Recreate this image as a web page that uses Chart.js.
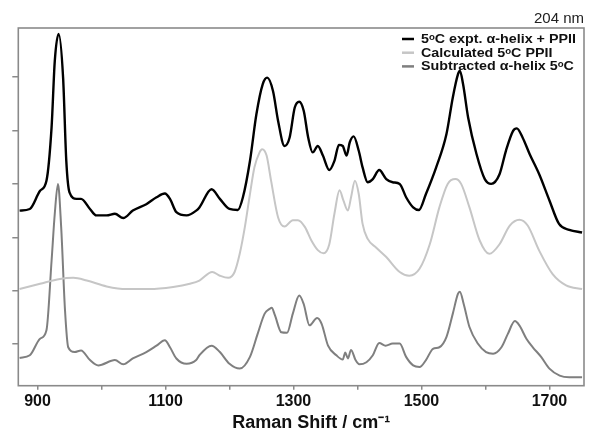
<!DOCTYPE html>
<html>
<head>
<meta charset="utf-8">
<script src="https://cdn.jsdelivr.net/npm/chart.js@4/dist/chart.umd.min.js"></script>
<style>
  html, body { margin: 0; padding: 0; background: #fff; }
  #wrap { width: 600px; height: 439px; position: relative; }
</style>
</head>
<body>
<div id="wrap"><canvas id="c"></canvas></div>
<script>
const seriesLabels = ['5\u1D52C expt. \u03B1-helix + PPII', 'Calculated 5\u1D52C PPII', 'Subtracted \u03B1-helix 5\u1D52C'];
const xTickLabels = [900, 1100, 1300, 1500, 1700];
const chartTitle = '204 nm';
const xAxisTitle = '    Raman Shift / cm\u207B\u00B9';

const expX = [872,888,904,914,922,927,933,940,945,950,961,968,982,992,1008,1021,1034,1049,1070,1086,1099,1107,1117,1133,1148,1153,1172,1185,1200,1213,1221,1232,1242,1252,1259,1268,1276,1286,1294,1302,1309,1316,1323,1330,1338,1346,1356,1364,1371,1377,1383,1388,1394,1402,1408,1416,1424,1434,1445,1455,1466,1476,1487,1496,1507,1523,1539,1549,1557,1560,1565,1573,1586,1599,1609,1622,1632,1643,1649,1658,1669,1684,1700,1715,1731,1751];
const expY = [2.50,2.53,2.87,3.06,4.06,5.30,5.81,4.99,3.43,2.84,2.72,2.72,2.53,2.41,2.41,2.44,2.36,2.50,2.62,2.75,2.82,2.72,2.47,2.41,2.50,2.56,2.90,2.72,2.53,2.51,2.75,3.43,4.30,4.87,4.99,4.74,4.18,3.71,3.87,4.43,4.54,4.37,3.87,3.59,3.71,3.53,3.26,3.43,3.73,3.71,3.53,3.78,3.89,3.62,3.31,3.03,3.09,3.26,3.09,3.03,3.00,2.75,2.56,2.51,2.81,3.31,3.93,4.62,5.05,5.12,4.87,4.24,3.56,3.09,3.00,3.18,3.62,3.99,4.04,3.87,3.56,3.18,2.69,2.25,2.14,2.09];

const calcX = [872,904,935,956,977,1008,1039,1075,1112,1138,1153,1173,1185,1198,1208,1216,1224,1232,1239,1247,1251,1258,1265,1276,1286,1299,1307,1318,1328,1338,1347,1356,1364,1372,1378,1385,1390,1396,1402,1408,1416,1429,1445,1466,1481,1497,1513,1528,1541,1553,1562,1575,1591,1606,1622,1638,1653,1666,1684,1705,1726,1751];
const calcY = [1.03,1.13,1.22,1.24,1.19,1.08,1.03,1.03,1.07,1.13,1.19,1.35,1.28,1.24,1.35,1.69,2.19,2.81,3.31,3.59,3.65,3.53,3.06,2.37,2.20,2.32,2.32,2.19,1.94,1.76,1.70,1.87,2.44,2.88,2.69,2.50,2.75,3.06,2.81,2.25,1.97,1.81,1.63,1.35,1.28,1.41,1.87,2.56,3.00,3.09,3.00,2.56,1.94,1.69,1.87,2.22,2.33,2.22,1.75,1.31,1.10,1.03];

const subX = [872,888,904,914,922,927,932,937,943,948,958,968,982,995,1021,1034,1049,1070,1086,1099,1107,1117,1133,1148,1153,1172,1185,1200,1216,1232,1244,1255,1263,1266,1271,1281,1290,1299,1309,1316,1325,1337,1344,1354,1367,1377,1381,1385,1390,1397,1403,1414,1424,1434,1444,1455,1466,1476,1487,1497,1507,1518,1528,1539,1549,1557,1560,1566,1575,1588,1601,1612,1625,1635,1646,1653,1664,1674,1687,1700,1716,1731,1751];
const subY = [-0.26,-0.21,0.10,0.26,1.56,2.44,3.00,2.19,0.63,-0.06,-0.15,-0.12,-0.30,-0.40,-0.30,-0.38,-0.27,-0.15,-0.03,0.07,-0.06,-0.27,-0.37,-0.30,-0.21,-0.03,-0.15,-0.37,-0.46,-0.24,0.19,0.57,0.66,0.68,0.54,0.22,0.21,0.57,0.91,0.75,0.35,0.49,0.38,-0.03,-0.21,-0.29,-0.16,-0.27,-0.11,-0.30,-0.38,-0.34,-0.21,0.02,-0.03,0.01,0.01,-0.24,-0.40,-0.43,-0.30,-0.09,-0.06,0.13,0.57,0.94,0.98,0.75,0.32,0.01,-0.15,-0.18,-0.06,0.19,0.43,0.35,0.10,-0.06,-0.24,-0.46,-0.59,-0.62,-0.62];

const colors = ['#000000', '#c6c6c6', '#7f7f7f'];
const widths = [2.4, 2, 2];

function pts(xs, ys) { return xs.map((x, i) => ({ x: x, y: ys[i] })); }

const frameColor = '#8a8a8a';

const framePlugin = {
  id: 'frame',
  afterDraw(chart) {
    const a = chart.chartArea, ctx = chart.ctx;
    ctx.save();
    ctx.strokeStyle = frameColor;
    ctx.lineWidth = 1.6;
    ctx.strokeRect(a.left, a.top, a.right - a.left, a.bottom - a.top);
    // legend inside chart area, top right
    chart.data.datasets.forEach((ds, i) => {
      const y = a.top + 11 + i * 13.7;
      ctx.strokeStyle = ds.borderColor;
      ctx.lineWidth = 2.5;
      ctx.beginPath();
      ctx.moveTo(a.right - 182, y);
      ctx.lineTo(a.right - 170, y);
      ctx.stroke();
      ctx.save();
      ctx.translate(a.right - 163, y + 0.5);
      ctx.scale(1.1, 1);
      ctx.font = 'bold 13px "Liberation Sans", Arial, sans-serif';
      ctx.textBaseline = 'middle';
      ctx.textAlign = 'left';
      ctx.fillStyle = '#111';
      ctx.fillText(ds.label, 0, 0);
      ctx.restore();
    });
    ctx.restore();
  }
};

new Chart(document.getElementById('c'), {
  type: 'line',
  data: {
    datasets: [
      { label: seriesLabels[0], data: pts(expX, expY), borderColor: colors[0], borderWidth: widths[0] },
      { label: seriesLabels[1], data: pts(calcX, calcY), borderColor: colors[1], borderWidth: widths[1] },
      { label: seriesLabels[2], data: pts(subX, subY), borderColor: colors[2], borderWidth: widths[2] }
    ]
  },
  options: {
    responsive: true,
    maintainAspectRatio: false,
    animation: false,
    layout: { padding: { left: 0, right: 16, top: 0, bottom: 0 } },
    elements: {
      point: { radius: 0 },
      line: { cubicInterpolationMode: 'monotone', fill: false }
    },
    plugins: {
      legend: { display: false },
      tooltip: { enabled: false },
      title: {
        display: true,
        text: chartTitle,
        align: 'end',
        color: '#222',
        font: { family: '"Liberation Sans", Arial, sans-serif', size: 15, weight: 'normal' },
        padding: { top: 10, bottom: 0 }
      }
    },
    scales: {
      x: {
        type: 'linear',
        min: 870,
        max: 1754,
        border: { display: false },
        grid: { display: true, drawOnChartArea: false, drawTicks: true, tickLength: 4, color: frameColor, lineWidth: 1.5 },
        ticks: {
          stepSize: 100,
          includeBounds: false,
          autoSkip: false,
          maxRotation: 0,
          padding: 2,
          color: '#111',
          font: { family: '"Liberation Sans", Arial, sans-serif', size: 16, weight: 'bold' },
          callback: (v) => xTickLabels.includes(v) ? String(v) : ''
        },
        title: {
          display: true,
          text: xAxisTitle,
          color: '#111',
          font: { family: '"Liberation Sans", Arial, sans-serif', size: 18, weight: 'bold' },
          padding: { top: 0, bottom: 5 }
        },
        afterFit: (s) => { s.height = 53.3; }
      },
      y: {
        type: 'linear',
        min: -0.78,
        max: 5.92,
        border: { display: false },
        grid: { display: true, drawOnChartArea: false, drawTicks: true, tickLength: 6, color: frameColor, lineWidth: 1.5 },
        ticks: { stepSize: 1, includeBounds: false, display: false },
        afterFit: (s) => { s.width = 18.3; }
      }
    }
  },
  plugins: [framePlugin]
});
</script>
</body>
</html>
